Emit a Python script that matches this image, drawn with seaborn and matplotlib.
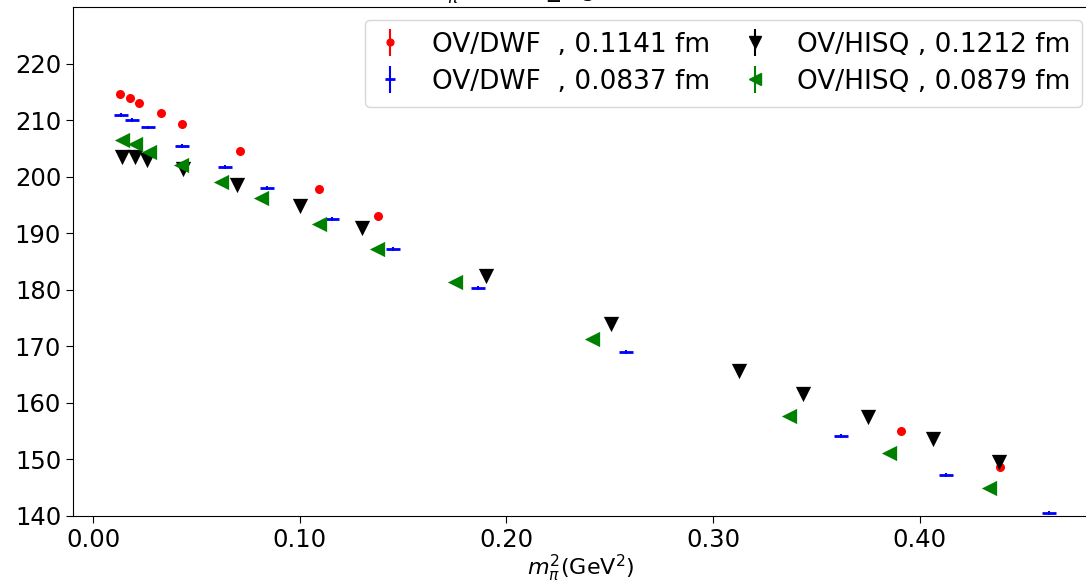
import numpy as np
import pandas as pd
import seaborn as sns
import matplotlib
matplotlib.use("Agg")
import matplotlib.pyplot as plt
from matplotlib.ticker import FormatStrFormatter

# ---- data ----
dwf114_x = [0.0131, 0.0179, 0.0223, 0.0329, 0.0431, 0.0712, 0.1094, 0.1380, 0.3910, 0.4387]
dwf114_y = [214.7, 213.9, 213.0, 211.2, 209.4, 204.5, 197.8, 193.0, 155.0, 148.7]

dwf084_x = [0.0136, 0.0189, 0.0266, 0.0431, 0.0639, 0.0843, 0.1157, 0.1453, 0.1860, 0.2580,
            0.3617, 0.4126, 0.4625]
dwf084_y = [210.9, 210.0, 208.7, 205.5, 201.7, 198.0, 192.5, 187.2, 180.3, 169.0,
            154.1, 147.2, 140.5]

hisq121_x = [0.0140, 0.0203, 0.0261, 0.0436, 0.0697, 0.1002, 0.1303, 0.1903, 0.2508, 0.3123,
             0.3433, 0.3748, 0.4063, 0.4383]
hisq121_y = [203.4, 203.4, 202.9, 201.3, 198.5, 194.8, 190.9, 182.4, 173.9, 165.6,
             161.6, 157.5, 153.6, 149.5]

hisq088_x = [0.0140, 0.0203, 0.0271, 0.0426, 0.0620, 0.0814, 0.1094, 0.1375, 0.1753, 0.2412,
             0.3366, 0.3850, 0.4334]
hisq088_y = [206.4, 205.7, 204.3, 202.0, 199.0, 196.2, 191.6, 187.2, 181.3, 171.3,
             157.7, 151.1, 144.9]

labels = ["OV/DWF  , 0.1141 fm", "OV/DWF  , 0.0837 fm",
          "OV/HISQ , 0.1212 fm", "OV/HISQ , 0.0879 fm"]
x_ticks = [0.0, 0.1, 0.2, 0.3, 0.4]
y_ticks = [140, 150, 160, 170, 180, 190, 200, 210, 220]
yerr_val = 0.35

sns.set_style("ticks")
plt.rcParams['font.family'] = ['DejaVu Sans']
plt.rcParams.update({
    "text.color": "black", "axes.labelcolor": "black",
    "xtick.color": "black", "ytick.color": "black",
    "axes.edgecolor": "black",
})

fig = plt.figure(figsize=(10.86, 5.87), dpi=100)
ax = fig.add_axes([0.0672, 0.121, 0.935, 0.867])

series = [
    (dwf114_x, dwf114_y, labels[0], "o", "red", 6.5),
    (dwf084_x, dwf084_y, labels[1], "_", "blue", 9.5),
    (hisq121_x, hisq121_y, labels[2], "v", "black", 11),
    (hisq088_x, hisq088_y, labels[3], "<", "green", 11),
]

handles = {}
for xs, ys, lab, mk, col, ms in series:
    df = pd.DataFrame({"x": xs, "y": ys})
    ax.errorbar(df["x"], df["y"], yerr=yerr_val, fmt="none", ecolor=col, elinewidth=1.5, zorder=2)
    if mk == "_":
        sns.scatterplot(data=df, x="x", y="y", marker=mk, s=ms**2, color=col,
                        linewidth=2, edgecolor=col, ax=ax, legend=False, zorder=3)
    else:
        sns.scatterplot(data=df, x="x", y="y", marker=mk, s=ms**2, color=col,
                        linewidth=0, ax=ax, legend=False, zorder=3)
    h = ax.errorbar([np.nan], [np.nan], yerr=[1.0], fmt=mk, color=col, ms=ms,
                    mew=2 if mk == "_" else 1, elinewidth=1.5, label=lab)
    handles[lab] = h

order = [labels[0], labels[1], labels[2], labels[3]]
ax.legend([handles[l] for l in order], order, ncol=2, loc="upper right",
          fontsize=19, handlelength=1.0, columnspacing=1.2, handletextpad=1.1,
          borderpad=0.45, labelspacing=0.42, markerscale=0.75,
          bbox_to_anchor=(0.994, 0.975), borderaxespad=0)

ax.set_xlim(-0.0097, 0.4815)
ax.set_ylim(140, 230)
ax.set_xticks(x_ticks)
ax.xaxis.set_major_formatter(FormatStrFormatter("%.2f"))
ax.set_yticks(y_ticks)
ax.tick_params(labelsize=17.5, direction="out", length=5)
ax.set_xlabel(r"$m_{\pi}^2$(GeV$^2$)", fontsize=16, labelpad=1)
ax.set_ylabel("")
ax.set_title(r"$\Sigma_{eff}$ (MeV) vs $m_{\pi}^2$ , chiral_log fit , both lattices (errors)",
             fontsize=17, pad=6.5, y=1.0)
for sp in ax.spines.values():
    sp.set_visible(True)

fig.savefig("out.png", dpi=100)
